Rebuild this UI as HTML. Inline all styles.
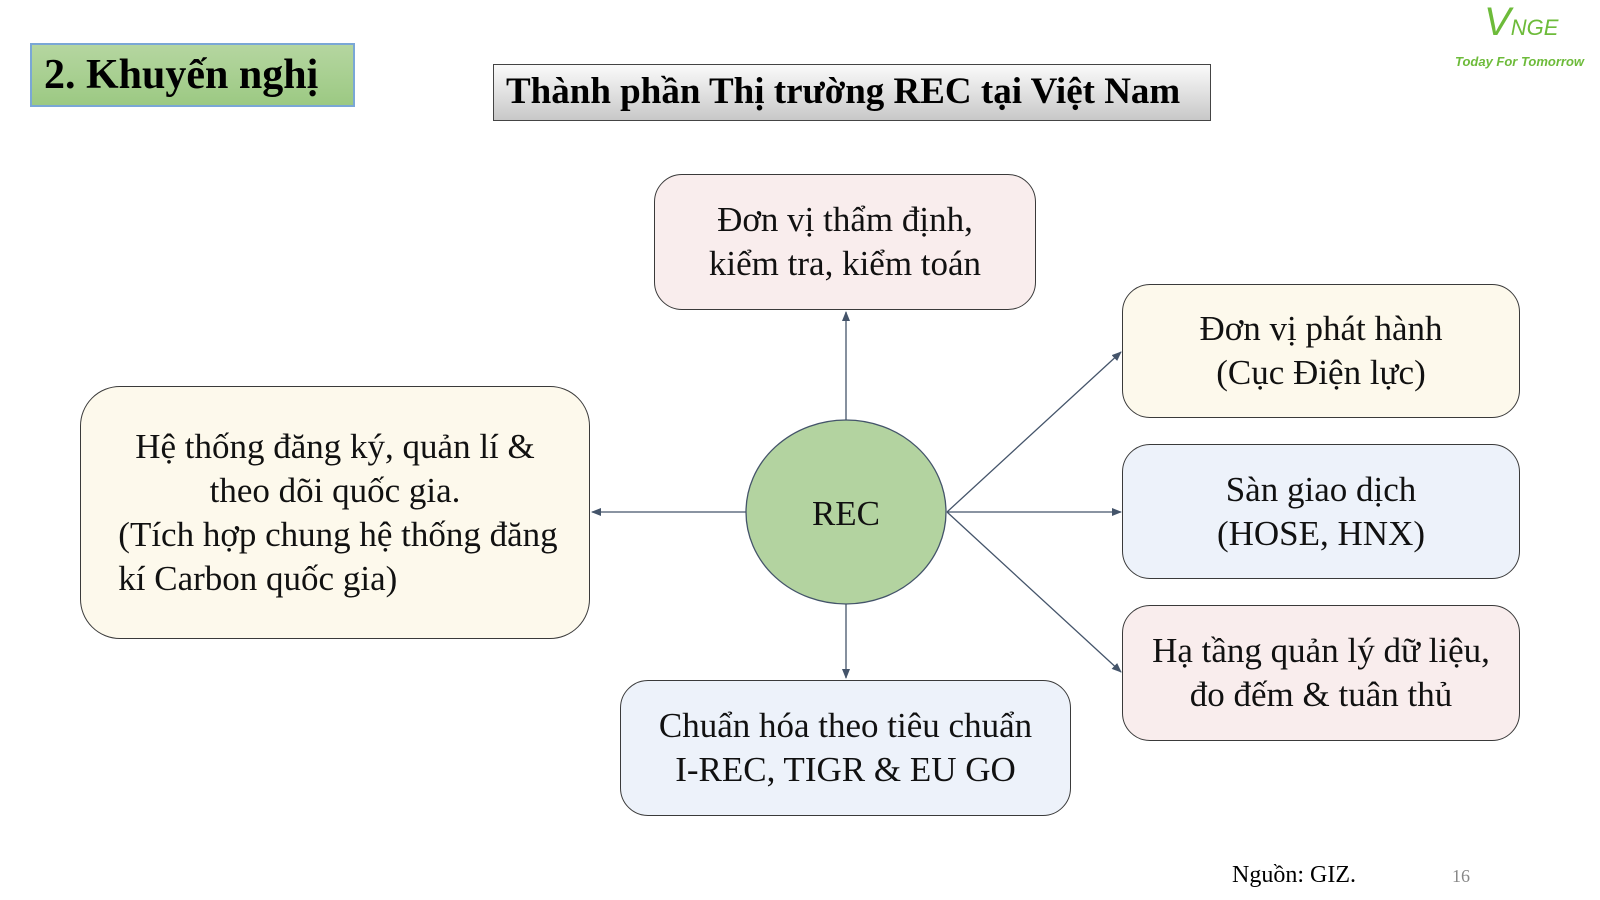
<!DOCTYPE html>
<html><head><meta charset="utf-8"><style>
body{margin:0;width:1600px;height:900px;background:#fff;position:relative;overflow:hidden;font-family:"Liberation Serif",serif}
.b{position:absolute;box-sizing:border-box;border:1.5px solid #3a3a3a;border-radius:28px;display:flex;align-items:center;justify-content:center;text-align:center;font-size:35px;line-height:44px;color:#111}
</style></head><body>
<div style="position:absolute;left:30px;top:43px;width:325px;height:64px;box-sizing:border-box;border:2px solid #7aa7d6;background:linear-gradient(#b5d6a0,#9cc983);font-weight:bold;font-size:42px;line-height:60px;padding-left:12px">2. Khuyến nghị</div>
<div style="position:absolute;left:493px;top:64px;width:718px;height:57px;box-sizing:border-box;border:1.5px solid #444;background:linear-gradient(#fafafa,#c8c8c8);font-weight:bold;font-size:37px;line-height:54px;padding-left:12px">Thành phần Thị trường REC tại Việt Nam</div>
<div style="position:absolute;left:1484px;top:2px;color:#6dbb3a;font-family:'Liberation Sans',sans-serif;font-style:italic;font-size:40px;line-height:40px">V<span style="font-size:22px">NGE</span></div>
<div style="position:absolute;left:1455px;top:54px;color:#6dbb3a;font-family:'Liberation Sans',sans-serif;font-style:italic;font-weight:bold;font-size:13px">Today For Tomorrow</div>
<svg style="position:absolute;left:0;top:0" width="1600" height="900">
<defs><marker id="a" markerWidth="10" markerHeight="8" refX="9" refY="4" orient="auto" markerUnits="userSpaceOnUse"><path d="M0,0 L10,4 L0,8 Z" fill="#44546a"/></marker></defs>
<g stroke="#44546a" stroke-width="1.3" fill="none" marker-end="url(#a)">
<line x1="846" y1="420" x2="846" y2="312"/>
<line x1="746" y1="512" x2="592" y2="512"/>
<line x1="846" y1="604" x2="846" y2="678"/>
<line x1="947" y1="512" x2="1121" y2="352"/>
<line x1="947" y1="512" x2="1121" y2="512"/>
<line x1="947" y1="512" x2="1121" y2="672"/>
</g>
<ellipse cx="846" cy="512" rx="100" ry="92" fill="#b3d3a0" stroke="#44546a" stroke-width="1.3"/>
<text x="846" y="525" text-anchor="middle" font-family="Liberation Serif" font-size="35" fill="#111">REC</text>
</svg>
<div class="b" style="left:654px;top:174px;width:382px;height:136px;background:#f9eded">Đơn vị thẩm định,<br>kiểm tra, kiểm toán</div>
<div class="b" style="left:80px;top:386px;width:510px;height:253px;background:#fdf9ec;border-radius:40px"><div>Hệ thống đăng ký, quản lí &amp;<br>theo dõi quốc gia.<div style="text-align:left;padding-left:6px">(Tích hợp chung hệ thống đăng<br>kí Carbon quốc gia)</div></div></div>
<div class="b" style="left:1122px;top:284px;width:398px;height:134px;background:#fdf9ec">Đơn vị phát hành<br>(Cục Điện lực)</div>
<div class="b" style="left:1122px;top:444px;width:398px;height:135px;background:#edf2fa">Sàn giao dịch<br>(HOSE, HNX)</div>
<div class="b" style="left:1122px;top:605px;width:398px;height:136px;background:#f9eded">Hạ tầng quản lý dữ liệu,<br>đo đếm &amp; tuân thủ</div>
<div class="b" style="left:620px;top:680px;width:451px;height:136px;background:#edf2fa">Chuẩn hóa theo tiêu chuẩn<br>I-REC, TIGR &amp; EU GO</div>
<div style="position:absolute;left:1232px;top:862px;font-size:24px">Nguồn: GIZ.</div>
<div style="position:absolute;left:1452px;top:866px;font-size:18px;color:#888">16</div>
</body></html>
